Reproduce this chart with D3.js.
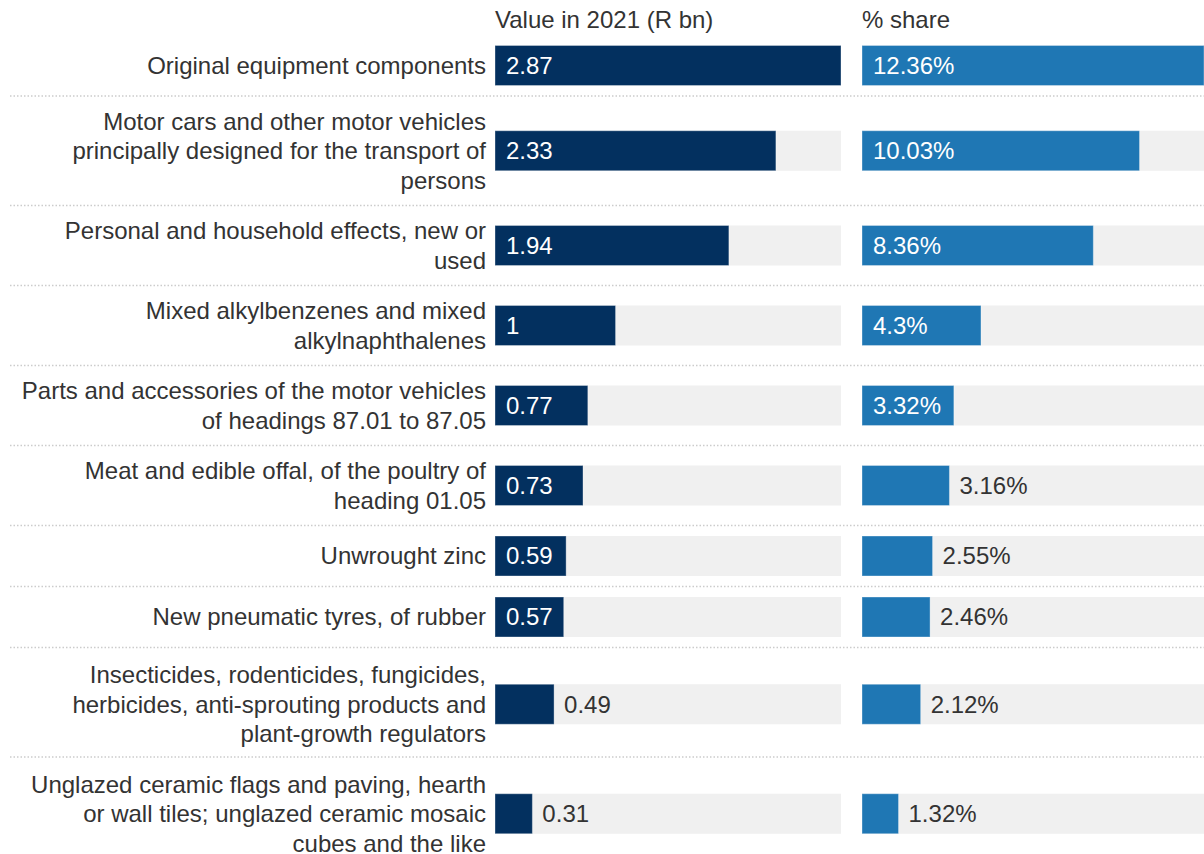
<!DOCTYPE html>
<html><head><meta charset="utf-8">
<script src="https://cdn.jsdelivr.net/npm/d3@7"></script>
<style>
html,body{margin:0;padding:0;background:#fff;}
svg{display:block;font-family:"Liberation Sans",Arial,sans-serif;}
</style></head><body>
<svg id="chart" width="1204" height="854"></svg>
<script>
const categories = [
  ["Original equipment components"],
  ["Motor cars and other motor vehicles","principally designed for the transport of","persons"],
  ["Personal and household effects, new or","used"],
  ["Mixed alkylbenzenes and mixed","alkylnaphthalenes"],
  ["Parts and accessories of the motor vehicles","of headings 87.01 to 87.05"],
  ["Meat and edible offal, of the poultry of","heading 01.05"],
  ["Unwrought zinc"],
  ["New pneumatic tyres, of rubber"],
  ["Insecticides, rodenticides, fungicides,","herbicides, anti-sprouting products and","plant-growth regulators"],
  ["Unglazed ceramic flags and paving, hearth","or wall tiles; unglazed ceramic mosaic","cubes and the like"]
];
const values2021 = [2.87, 2.33, 1.94, 1.00, 0.77, 0.73, 0.59, 0.57, 0.49, 0.31];
const valueLabels = ["2.87","2.33","1.94","1","0.77","0.73","0.59","0.57","0.49","0.31"];
const shares = [12.36, 10.03, 8.36, 4.30, 3.32, 3.16, 2.55, 2.46, 2.12, 1.32];
const shareLabels = ["12.36%","10.03%","8.36%","4.3%","3.32%","3.16%","2.55%","2.46%","2.12%","1.32%"];
const columnTitles = ["Value in 2021 (R bn)", "% share"];

const svg = d3.select("#chart");
const fontSize = 24, lineH = 29.5, pad = 10.5, barH = 40, top0 = 35;
const textColor = "#333333";

// row layout
let y = top0;
const rows = categories.map((lines, i) => {
  const h = Math.max(lines.length * lineH, barH) + 2 * pad;
  const r = {i, lines, y0: y, h, cy: y + h / 2 + (lines.length === 3 && i > 5 ? 2 : 0)};
  y += h;
  return r;
});

const x1 = d3.scaleLinear().domain([0, d3.max(values2021)]).range([495, 841]);
const x2 = d3.scaleLinear().domain([0, d3.max(shares)]).range([862, 1204]);

// titles
svg.append("text").attr("x", x1(0)).attr("y", 28).attr("font-size", fontSize)
  .attr("fill", textColor).text(columnTitles[0]);
svg.append("text").attr("x", x2(0)).attr("y", 28).attr("font-size", fontSize)
  .attr("fill", textColor).text(columnTitles[1]);

// separators
svg.selectAll("line.sep").data(rows.slice(1)).join("line")
  .attr("class", "sep")
  .attr("x1", 10).attr("x2", 1204)
  .attr("y1", d => d.y0).attr("y2", d => d.y0)
  .attr("stroke", "#cccccc").attr("stroke-width", 1.5)
  .attr("stroke-dasharray", "1.5,2");

// labels
const lab = svg.selectAll("text.lab").data(rows).join("text")
  .attr("class", "lab").attr("font-size", fontSize).attr("fill", textColor)
  .attr("text-anchor", "end");
lab.each(function(d) {
  const n = d.lines.length;
  d3.select(this).selectAll("tspan").data(d.lines).join("tspan")
    .attr("x", 486)
    .attr("y", (l, k) => d.cy + (k - (n - 1) / 2) * lineH)
    .attr("dy", "0.35em")
    .text(l => l);
});

function drawColumn(xs, vals, labels, color) {
  const g = svg.append("g");
  g.selectAll("rect.bg").data(rows).join("rect")
    .attr("x", xs.range()[0]).attr("width", xs.range()[1] - xs.range()[0])
    .attr("y", d => d.cy - barH / 2).attr("height", barH)
    .attr("fill", "#f0f0f0");
  g.selectAll("rect.bar").data(rows).join("rect")
    .attr("x", xs(0)).attr("width", d => xs(vals[d.i]) - xs(0))
    .attr("y", d => d.cy - barH / 2).attr("height", barH)
    .attr("fill", color).attr("stroke", "rgba(255,255,255,0.35)").attr("stroke-width", 1);
  g.selectAll("text.val").data(rows).join("text")
    .attr("font-size", fontSize)
    .each(function(d) {
      const t = d3.select(this).text(labels[d.i]);
      const w = this.getComputedTextLength();
      const bw = xs(vals[d.i]) - xs(0);
      const inside = w + 20 <= bw;
      t.attr("x", inside ? xs(0) + 11 : xs(vals[d.i]) + 10)
       .attr("y", d.cy).attr("dy", "0.35em")
       .attr("fill", inside ? "#ffffff" : textColor);
    });
}
drawColumn(x1, values2021, valueLabels, "#03305f");
drawColumn(x2, shares, shareLabels, "#1f77b4");
</script>
</body></html>
